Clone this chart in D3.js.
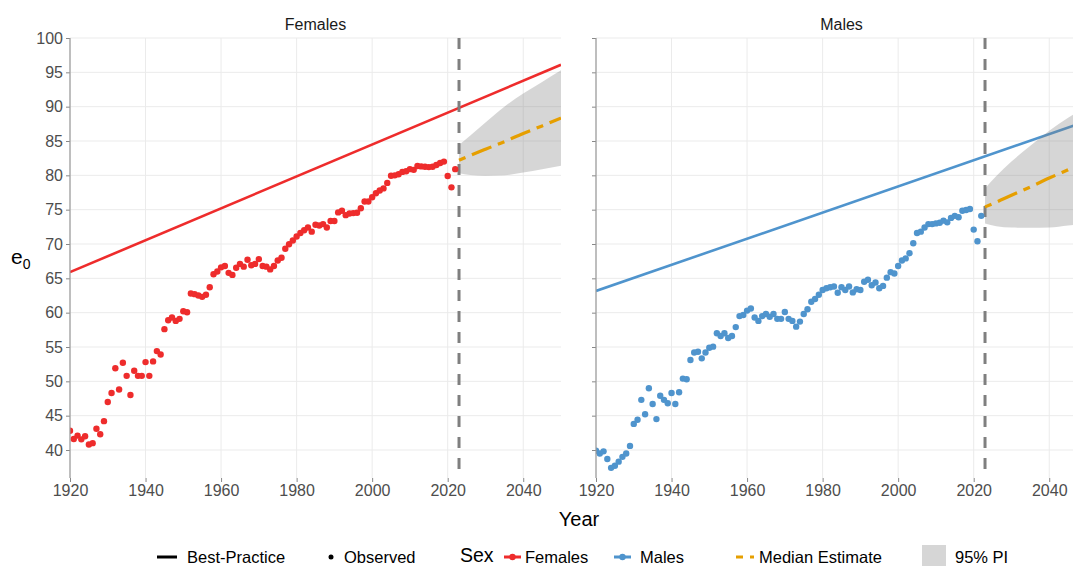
<!DOCTYPE html>
<html><head><meta charset="utf-8">
<script src="https://cdn.jsdelivr.net/npm/d3@7"></script>
<style>body{margin:0;background:#fff} text{font-family:"Liberation Sans",Arial,sans-serif}</style>
</head><body><svg id="c" width="1073" height="566"></svg>
<script>
// ---------- DATA ----------
const sexes = ["Females", "Males"];
const obsStartYear = 1920;
const femalesObserved = [
 42.8,41.6,42.1,41.55,42.0,40.8,41.0,43.1,42.3,44.2,
 47.0,48.3,51.9,48.8,52.7,50.8,48.0,51.55,50.8,50.8,
 52.8,50.8,52.9,54.4,53.9,57.6,58.9,59.3,58.8,59.1,
 60.2,60.05,62.8,62.7,62.5,62.3,62.6,63.7,65.6,66.0,
 66.6,66.8,65.8,65.5,66.55,67.1,66.7,67.7,66.9,67.1,
 67.8,66.8,66.7,66.3,66.8,67.6,68.0,69.3,69.96,70.5,
 71.1,71.6,72.0,72.4,71.8,72.8,72.7,72.9,72.4,73.35,
 73.35,74.6,74.85,74.2,74.45,74.5,74.55,75.2,76.2,76.2,
 76.8,77.4,77.8,78.1,78.9,79.95,80.0,80.15,80.5,80.6,
 80.9,80.8,81.35,81.3,81.25,81.2,81.25,81.5,81.8,82.0,
 79.9,78.25,80.9];
const malesObserved = [
 39.9,39.5,39.8,38.7,37.4,37.7,38.3,39.0,39.5,40.6,
 43.8,44.4,47.3,45.2,49.0,46.7,44.5,47.9,47.3,46.8,
 48.3,46.7,48.4,50.4,50.3,53.1,54.2,54.3,53.35,54.2,
 54.9,55.05,57.0,56.6,57.0,56.3,56.6,57.9,59.5,59.65,
 60.3,60.6,59.3,58.8,59.5,59.8,59.4,59.8,59.1,59.1,
 60.1,59.1,58.8,57.96,58.7,59.8,60.5,61.6,62.0,62.6,
 63.3,63.55,63.7,63.8,62.9,63.7,63.3,63.8,62.95,63.4,
 63.3,64.5,64.8,64.0,64.4,63.55,63.9,65.1,65.9,65.7,
 66.8,67.6,67.9,68.65,70.1,71.6,71.8,72.4,72.9,72.9,
 73.0,73.1,73.4,73.15,73.8,74.1,73.9,74.85,74.95,75.1,
 72.1,70.4,74.1];
const bestPracticeYears = [1920, 2050];
const femalesBestPractice = [65.9, 96.1];
const malesBestPractice = [63.16, 87.9];
const forecastYears = [2023, 2026, 2030, 2035, 2040, 2045, 2050];
const femalesMedian = [82.2, 82.9, 83.8, 84.9, 86.1, 87.2, 88.35];
const femalesLower  = [80.3, 80.05, 79.95, 80.0, 80.4, 80.9, 81.4];
const femalesUpper  = [84.4, 85.8, 87.7, 90.0, 91.9, 93.6, 95.3];
const malesMedian = [75.4, 76.1, 77.1, 78.3, 79.6, 80.8, 82.0];
const malesLower  = [73.0, 72.6, 72.4, 72.35, 72.4, 72.7, 73.0];
const malesUpper  = [78.1, 79.9, 82.0, 84.3, 86.5, 88.4, 90.0];
const jumpOffYear = 2023;
const xTicks = [1920, 1940, 1960, 1980, 2000, 2020, 2040];
const yTicks = [40, 45, 50, 55, 60, 65, 70, 75, 80, 85, 90, 95, 100];
const legendLabels = ["Best-Practice", "Observed", "Sex", "Females", "Males", "Median Estimate", "95% PI"];

// ---------- STYLE ----------
const colors = {Females: "#EE2C2C", Males: "#4F94CD"};
const orange = "#E69F00";
const panels = [
  {sex: "Females", x0: 70, obs: femalesObserved, bp: femalesBestPractice, med: femalesMedian, lo: femalesLower, hi: femalesUpper},
  {sex: "Males", x0: 596, obs: malesObserved, bp: malesBestPractice, med: malesMedian, lo: malesLower, hi: malesUpper}
];
const panelW = 491, pTop = 38, pBottom = 478;
const svg = d3.select("#c");
const y = d3.scaleLinear().domain([40, 100]).range([450, 38]);
const twodash = "7,7,21,7";
const FONT = '"Liberation Sans",Arial,sans-serif';

panels.forEach((p, i) => {
  const x = d3.scaleLinear().domain([1920, 2050]).range([p.x0, p.x0 + panelW]);
  const g = svg.append("g");
  const clipId = "clip" + i;
  svg.append("clipPath").attr("id", clipId).append("rect")
    .attr("x", p.x0).attr("y", pTop).attr("width", panelW).attr("height", pBottom - pTop);
  // grid
  g.selectAll(".hg").data(yTicks).enter().append("line")
    .attr("x1", p.x0).attr("x2", p.x0 + panelW).attr("y1", d => y(d)).attr("y2", d => y(d))
    .attr("stroke", "#EBEBEB").attr("stroke-width", 1);
  g.selectAll(".vg").data(xTicks).enter().append("line")
    .attr("x1", d => x(d)).attr("x2", d => x(d)).attr("y1", pTop).attr("y2", pBottom)
    .attr("stroke", "#EBEBEB").attr("stroke-width", 1);
  const pg = g.append("g").attr("clip-path", `url(#${clipId})`);
  // best practice
  pg.append("path").datum(bestPracticeYears.map((yr, k) => [yr, p.bp[k]]))
    .attr("d", d3.line().x(d => x(d[0])).y(d => y(d[1])))
    .attr("stroke", colors[p.sex]).attr("stroke-width", 2.6).attr("fill", "none");
  // PI band
  const band = forecastYears.map((yr, k) => ({yr, lo: p.lo[k], hi: p.hi[k]}));
  pg.append("path").datum(band)
    .attr("d", d3.area().curve(d3.curveMonotoneX).x(d => x(d.yr)).y0(d => y(d.lo)).y1(d => y(d.hi)))
    .attr("fill", "#7F7F7F").attr("fill-opacity", 0.32);
  // jump-off line
  pg.append("line").attr("x1", x(jumpOffYear)).attr("x2", x(jumpOffYear)).attr("y1", pTop).attr("y2", pBottom)
    .attr("stroke", "#7F7F7F").attr("stroke-width", 3).attr("stroke-dasharray", "11,10");
  // observed points
  pg.selectAll("circle").data(p.obs).enter().append("circle")
    .attr("cx", (d, k) => x(obsStartYear + k)).attr("cy", d => y(d)).attr("r", 3.2)
    .attr("fill", colors[p.sex]);
  // median
  pg.append("path").datum(forecastYears.map((yr, k) => [yr, p.med[k]]))
    .attr("d", d3.line().curve(d3.curveMonotoneX).x(d => x(d[0])).y(d => y(d[1])))
    .attr("stroke", orange).attr("stroke-width", 3.2).attr("fill", "none").attr("stroke-dasharray", twodash);
  // axes
  const ya = d3.axisLeft(y).tickValues(yTicks).tickSize(4).tickPadding(3);
  if (i > 0) ya.tickFormat("");
  const yg = svg.append("g").attr("transform", `translate(${p.x0},0)`).call(ya);
  yg.select(".domain").remove();
  yg.selectAll("line").attr("stroke", "#888");
  yg.selectAll("text").attr("font-size", 16).attr("fill", "#4D4D4D").attr("font-family", FONT);
  svg.append("line").attr("x1", p.x0).attr("x2", p.x0).attr("y1", pTop).attr("y2", pBottom).attr("stroke", "#999").attr("stroke-width", 1.2);
  const xa = d3.axisBottom(x).tickValues(xTicks).tickFormat(d3.format("d")).tickSize(4).tickPadding(3);
  const xg = svg.append("g").attr("transform", `translate(0,${pBottom})`).call(xa);
  xg.select(".domain").remove();
  xg.selectAll("line").attr("stroke", "#888");
  xg.selectAll("text").attr("font-size", 16).attr("fill", "#4D4D4D").attr("font-family", FONT);
  // strip
  svg.append("text").attr("x", p.x0 + panelW / 2).attr("y", 30).attr("text-anchor", "middle")
    .attr("font-size", 16).attr("fill", "#1A1A1A").text(p.sex);
});

// axis titles
svg.append("text").attr("x", 579).attr("y", 526).attr("text-anchor", "middle").attr("font-size", 20).text("Year");
const yt = svg.append("text").attr("x", 11).attr("y", 264).attr("font-size", 21);
yt.append("tspan").text("e");
yt.append("tspan").attr("font-size", 14).attr("dy", 5).text("0");

// legend
const ly = 557, lfs = 16.5;
const L = svg.append("g");
L.append("line").attr("x1", 157).attr("x2", 177).attr("y1", ly).attr("y2", ly).attr("stroke", "#000").attr("stroke-width", 3);
L.append("text").attr("x", 187).attr("y", ly).attr("dy", "0.35em").attr("font-size", lfs).text(legendLabels[0]);
L.append("circle").attr("cx", 331).attr("cy", ly).attr("r", 2.5).attr("fill", "#000");
L.append("text").attr("x", 344).attr("y", ly).attr("dy", "0.35em").attr("font-size", lfs).text(legendLabels[1]);
L.append("text").attr("x", 460).attr("y", 561.5).attr("font-size", 19.5).text(legendLabels[2]);
[["Females", 504, 525], ["Males", 614, 640]].forEach(([s, kx, tx], k) => {
  L.append("line").attr("x1", kx).attr("x2", kx + 17).attr("y1", ly).attr("y2", ly).attr("stroke", colors[s]).attr("stroke-width", 3);
  L.append("circle").attr("cx", kx + 8.5).attr("cy", ly).attr("r", 3.2).attr("fill", colors[s]);
  L.append("text").attr("x", tx).attr("y", ly).attr("dy", "0.35em").attr("font-size", lfs).text(legendLabels[3 + k]);
});
L.append("line").attr("x1", 736).attr("x2", 754).attr("y1", ly).attr("y2", ly).attr("stroke", orange).attr("stroke-width", 3.2).attr("stroke-dasharray", twodash);
L.append("text").attr("x", 759).attr("y", ly).attr("dy", "0.35em").attr("font-size", lfs).text(legendLabels[5]);
L.append("rect").attr("x", 922).attr("y", 545).attr("width", 24).attr("height", 24).attr("fill", "#D6D6D6");
L.append("text").attr("x", 955).attr("y", ly).attr("dy", "0.35em").attr("font-size", lfs).text(legendLabels[6]);
</script></body></html>
